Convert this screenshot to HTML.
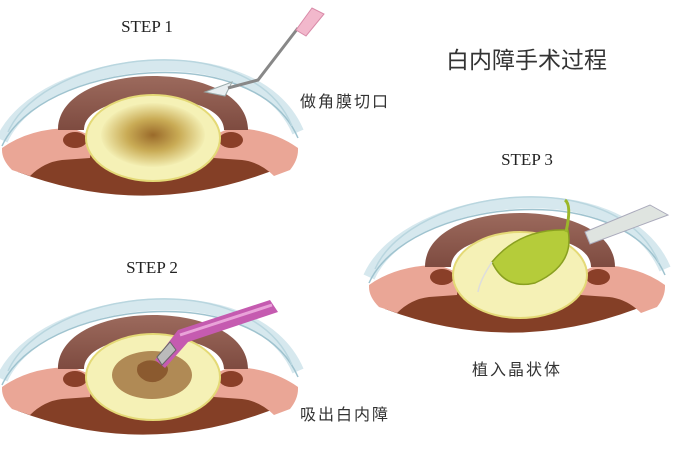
<!DOCTYPE html>
<html><head><meta charset="utf-8"><style>
html,body{margin:0;padding:0;background:#fff;width:683px;height:470px;overflow:hidden}
svg{display:block}
.s{font-family:"Liberation Serif",serif;font-size:17px;fill:#222}
.c{font-family:"Liberation Sans","Noto Sans CJK SC",sans-serif;fill:#333}
</style></head><body>
<svg width="683" height="470" viewBox="0 0 683 470" xmlns="http://www.w3.org/2000/svg">
<defs>
<linearGradient id="ir" x1="0" y1="0" x2="0" y2="1"><stop offset="0" stop-color="#9c6a5d"/><stop offset="1" stop-color="#7e4b40"/></linearGradient>
<radialGradient id="l1"><stop offset="0" stop-color="#9a6a2a"/><stop offset="0.5" stop-color="#c9ab55"/><stop offset="1" stop-color="#f3eeb2"/></radialGradient>
<g id="eye">
  <path d="M18,172 Q150,222 284,166 L278,148 L26,148 Z" fill="#843f26"/>
  <path d="M2,148 Q30,128 72,128 L92,136 L90,158 L62,160 Q44,162 30,176 L12,170 Q2,160 2,150 Z" fill="#eaa696"/>
  <path d="M298,148 Q270,128 230,128 L212,136 L214,158 L242,160 Q260,162 274,176 L290,170 Q298,160 298,150 Z" fill="#eaa696"/>
  <ellipse cx="75" cy="140" rx="12" ry="8" fill="#8a3f28"/>
  <ellipse cx="231" cy="140" rx="12" ry="8" fill="#8a3f28"/>
  <path d="M58,130 C58,58 248,58 248,130 L224,130 C224,88 84,88 84,130 Z" fill="url(#ir)"/>
  <path d="M2,140 C40,55 255,30 298,132" fill="none" stroke="#d6e8ee" stroke-width="12"/>
  <path d="M2,146 C40,62 255,38 298,138" fill="none" stroke="#9fc3cf" stroke-width="1.5"/>
  <path d="M8,132 C45,50 250,25 292,126" fill="none" stroke="#b9d6df" stroke-width="1.5"/>
  <ellipse cx="153" cy="138" rx="67" ry="43" fill="#f5f1b6" stroke="#e4d976" stroke-width="2"/>
</g>
</defs>

<use href="#eye"/>
<ellipse cx="153" cy="135" rx="52" ry="32" fill="url(#l1)"/>
<path d="M205,92 L232,82 L225,96 Z" fill="#e8eef0" stroke="#9aa" stroke-width="1"/>
<path d="M228,88 L258,80 L298,28" fill="none" stroke="#888" stroke-width="3"/>
<path d="M296,30 L312,8 L324,14 L306,36 Z" fill="#f2b8cc" stroke="#d98aa8" stroke-width="1"/>

<use href="#eye" transform="translate(0,239)"/>
<ellipse cx="152" cy="375" rx="40" ry="24" fill="#b08a55"/>
<path d="M138,365 q10,-8 22,-2 q12,2 6,12 q-8,10 -20,6 q-12,-6 -8,-16z" fill="#8b5a2f"/>
<path d="M155,360 L178,330 L270,300 L278,312 L188,342 L165,368 Z" fill="#c55bb0"/>
<path d="M180,335 L272,305" stroke="#e9a3d9" stroke-width="3"/>
<path d="M157,357 L170,342 L176,350 L162,365 Z" fill="#bbb" stroke="#666"/>

<use href="#eye" transform="translate(367,137)"/>
<path d="M492,262 Q520,228 568,230 Q575,265 535,283 Q505,290 492,262 Z" fill="#b5cc3a" stroke="#8aa020" stroke-width="1.5"/>
<path d="M566,232 Q572,205 565,200" fill="none" stroke="#9cb72a" stroke-width="3"/>
<path d="M492,262 Q480,280 478,292" fill="none" stroke="#ddd" stroke-width="1.5"/>
<path d="M585,232 L650,205 L668,215 L590,244 Z" fill="#dfe4e0" stroke="#aab" stroke-width="1"/>

<text class="s" x="147" y="32" text-anchor="middle">STEP 1</text>
<text class="s" x="152" y="273" text-anchor="middle">STEP 2</text>
<text class="s" x="527" y="165" text-anchor="middle">STEP 3</text>
<text class="c" x="446" y="68" font-size="23">白内障手术过程</text>
<text class="c" x="300" y="107" font-size="16" letter-spacing="2">做角膜切口</text>
<text class="c" x="300" y="420" font-size="16" letter-spacing="2">吸出白内障</text>
<text class="c" x="472" y="375" font-size="16" letter-spacing="2">植入晶状体</text>
</svg>
</body></html>
